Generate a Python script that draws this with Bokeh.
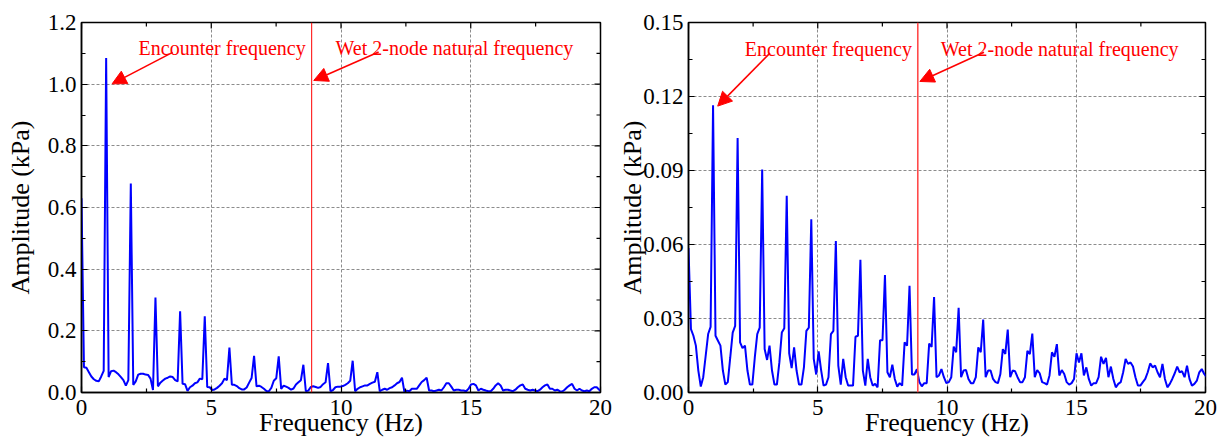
from bokeh.plotting import figure
from bokeh.layouts import row
from bokeh.models import (Range1d, Span, Arrow, NormalHead, Label,
                          PrintfTickFormatter, FixedTicker)
from bokeh.embed import file_html
from bokeh.resources import INLINE

# ---------------- data ----------------
df_hz = 0.095          # frequency resolution of the spectrum (Hz)
wet_2node_freq = 8.87  # Hz

amp_left = [
    0.630, 0.082, 0.080, 0.066, 0.052, 0.043, 0.038, 0.036, 0.052, 0.070,
    1.085, 0.050, 0.069, 0.071, 0.066, 0.059, 0.050, 0.040, 0.022, 0.040,
    0.678, 0.025, 0.036, 0.058, 0.061, 0.061, 0.058, 0.057, 0.045, 0.008,
    0.308, 0.020, 0.032, 0.039, 0.045, 0.048, 0.052, 0.050, 0.040, 0.036,
    0.263, 0.028, 0.027, 0.005, 0.017, 0.022, 0.030, 0.033, 0.045, 0.043,
    0.2475, 0.018, 0.017, 0.008, 0.010, 0.015, 0.022, 0.030, 0.045, 0.040,
    0.146, 0.025, 0.025, 0.021, 0.014, 0.010, 0.010, 0.016, 0.032, 0.047,
    0.119, 0.020, 0.022, 0.018, 0.012, 0.005, 0.004, 0.015, 0.038, 0.046,
    0.117, 0.012, 0.022, 0.019, 0.015, 0.009, 0.013, 0.026, 0.033, 0.040,
    0.090, 0.004, 0.006, 0.018, 0.020, 0.018, 0.015, 0.018, 0.027, 0.033,
    0.095, 0.004, 0.008, 0.017, 0.019, 0.019, 0.021, 0.025, 0.030, 0.038,
    0.103, 0.004, 0.012, 0.017, 0.020, 0.023, 0.023, 0.028, 0.032, 0.035,
    0.066, 0.004, 0.009, 0.012, 0.009, 0.014, 0.017, 0.023, 0.030, 0.034,
    0.048, 0.001, 0.006, 0.004, 0.012, 0.012, 0.012, 0.023, 0.034, 0.040,
    0.048, 0.0065, 0.0065, 0.0043, 0.0065, 0.009, 0.0065, 0.017, 0.030, 0.030,
    0.019, 0.0065, 0.009, 0.009, 0.0065, 0.0065, 0.0043, 0.012, 0.026, 0.028,
    0.023, 0.0065, 0.012, 0.009, 0.0065, 0.0043, 0.0043, 0.012, 0.023, 0.030,
    0.023, 0.0065, 0.009, 0.009, 0.0065, 0.0043, 0.009, 0.017, 0.023, 0.026,
    0.012, 0.009, 0.0065, 0.009, 0.0065, 0.0043, 0.009, 0.017, 0.023, 0.026,
    0.012, 0.012, 0.0065, 0.009, 0.0043, 0.0032, 0.009, 0.017, 0.023, 0.028,
    0.012, 0.0065, 0.012, 0.0065, 0.0043, 0.0065, 0.0043, 0.012, 0.017, 0.017,
    0.009, 0.002,
]

amp_right = [
    0.0586, 0.0257, 0.0230, 0.0190, 0.0089, 0.0024, 0.0062, 0.0149, 0.0237, 0.0266,
    0.1164, 0.0230, 0.0210, 0.0190, 0.0089, 0.0032, 0.0042, 0.0142, 0.0243, 0.0270,
    0.1032, 0.0203, 0.0180, 0.0190, 0.0089, 0.0032, 0.0032, 0.0142, 0.0237, 0.0263,
    0.0904, 0.0176, 0.0132, 0.0190, 0.0089, 0.0032, 0.0032, 0.0122, 0.0243, 0.0260,
    0.0798, 0.0159, 0.0099, 0.0183, 0.0089, 0.0032, 0.0032, 0.0102, 0.0250, 0.0263,
    0.0702, 0.0136, 0.0073, 0.0167, 0.0091, 0.0028, 0.0032, 0.0062, 0.0237, 0.0250,
    0.0614, 0.0109, 0.0032, 0.0136, 0.0062, 0.0028, 0.0028, 0.0028, 0.0226, 0.0230,
    0.0538, 0.0089, 0.0028, 0.0136, 0.0062, 0.0028, 0.0035, 0.0021, 0.0212, 0.0212,
    0.0476, 0.0082, 0.0062, 0.0113, 0.0055, 0.0024, 0.0038, 0.0028, 0.0203, 0.0190,
    0.0433, 0.0073, 0.0073, 0.0095, 0.0043, 0.0025, 0.0038, 0.0038, 0.0198, 0.0185,
    0.0387, 0.0062, 0.0069, 0.0095, 0.0062, 0.0038, 0.0042, 0.0062, 0.0186, 0.0163,
    0.0343, 0.0062, 0.0089, 0.0091, 0.0055, 0.0038, 0.0038, 0.0062, 0.0183, 0.0163,
    0.0296, 0.0062, 0.0089, 0.0089, 0.0055, 0.0042, 0.0038, 0.0075, 0.0176, 0.0156,
    0.0255, 0.0062, 0.0089, 0.0086, 0.0062, 0.0042, 0.0042, 0.0062, 0.0169, 0.0156,
    0.0239, 0.0062, 0.0091, 0.0078, 0.0042, 0.0038, 0.0032, 0.0069, 0.0163, 0.0145,
    0.0196, 0.0069, 0.0091, 0.0075, 0.0042, 0.0032, 0.0038, 0.0055, 0.0159, 0.0122,
    0.0159, 0.0069, 0.0102, 0.0055, 0.0028, 0.0038, 0.0038, 0.0062, 0.0145, 0.0116,
    0.0140, 0.0062, 0.0105, 0.0055, 0.0021, 0.0035, 0.0042, 0.0082, 0.0136, 0.0116,
    0.0122, 0.0105, 0.0062, 0.0028, 0.0028, 0.0042, 0.0055, 0.0082, 0.0118, 0.0102,
    0.0109, 0.0082, 0.0062, 0.0116, 0.0055, 0.0021, 0.0035, 0.0055, 0.0078, 0.0105,
    0.0082, 0.0086, 0.0062, 0.0109, 0.0055, 0.0028, 0.0035, 0.0048, 0.0082, 0.0095,
    0.0075, 0.0062,
]

freq_left = [i * df_hz for i in range(len(amp_left))]
freq_right = [i * df_hz for i in range(len(amp_right))]

x_ticks = [0, 5, 10, 15, 20]
x_minor = [2.5, 7.5, 12.5, 17.5]
y_ticks_left = [0.0, 0.2, 0.4, 0.6, 0.8, 1.0, 1.2]
y_minor_left = [0.1, 0.3, 0.5, 0.7, 0.9, 1.1]
y_ticks_right = [0.0, 0.03, 0.06, 0.09, 0.12, 0.15]
y_minor_right = [0.015, 0.045, 0.075, 0.105, 0.135]

label_enc = "Encounter frequency"
label_wet = "Wet 2-node natural frequency"
x_title = "Frequency (Hz)"
y_title = "Amplitude (kPa)"

FONT = "Liberation Serif"
FRAME_W, FRAME_H = 519, 370   # plot-frame size in px (used for tick lengths)
MAJ_LEN, MIN_LEN = 6, 4


def style_axis(ax, ticker, title, title_standoff, tick_standoff, fmt=None):
    ax.ticker = ticker
    ax.axis_line_width = 1.5
    ax.axis_line_color = "black"
    ax.major_tick_in = MAJ_LEN
    ax.major_tick_out = 0
    ax.minor_tick_in = MIN_LEN
    ax.minor_tick_out = 0
    ax.major_tick_line_width = 1.2
    ax.minor_tick_line_width = 1.2
    ax.major_label_text_font = FONT
    ax.major_label_text_font_size = "23px"
    ax.major_label_text_color = "black"
    ax.major_label_standoff = tick_standoff
    ax.axis_label = title
    ax.axis_label_text_font = FONT
    ax.axis_label_text_font_size = "26px"
    ax.axis_label_text_font_style = "normal"
    ax.axis_label_text_color = "black"
    ax.axis_label_standoff = title_standoff
    if fmt:
        ax.formatter = PrintfTickFormatter(format=fmt)


def panel(freq, amp, ymax, yt, ym, fmt, width, bl, br, bt, wet_color, wet_width,
          enc_text_xy, wet_text_xy, enc_arrow, wet_arrow, ytitle_standoff):
    p = figure(width=width, height=439, output_backend="svg", toolbar_location=None,
               x_range=Range1d(0, 20), y_range=Range1d(0, ymax),
               min_border_left=bl, min_border_right=br, min_border_top=bt,
               min_border_bottom=47)
    p.outline_line_color = "black"
    p.outline_line_width = 1.5
    p.background_fill_color = "white"
    p.border_fill_color = "white"

    style_axis(p.xaxis[0], FixedTicker(ticks=x_ticks, minor_ticks=x_minor),
               x_title, -10, 7)
    style_axis(p.yaxis[0], FixedTicker(ticks=yt, minor_ticks=ym),
               y_title, ytitle_standoff, 5, fmt)

    for g in (p.xgrid[0], p.ygrid[0]):
        g.grid_line_color = "#8c8c8c"
        g.grid_line_dash = "3 2"
        g.grid_line_width = 1
    p.xgrid[0].ticker = FixedTicker(ticks=x_ticks)
    p.ygrid[0].ticker = FixedTicker(ticks=yt)

    # inward ticks on the top and right frame edges
    dy_maj = MAJ_LEN * ymax / FRAME_H
    dy_min = MIN_LEN * ymax / FRAME_H
    dx_maj = MAJ_LEN * 20 / FRAME_W
    dx_min = MIN_LEN * 20 / FRAME_W
    p.segment(x0=x_ticks, y0=[ymax] * len(x_ticks), x1=x_ticks,
              y1=[ymax - dy_maj] * len(x_ticks), line_color="black", line_width=1.2)
    p.segment(x0=x_minor, y0=[ymax] * len(x_minor), x1=x_minor,
              y1=[ymax - dy_min] * len(x_minor), line_color="black", line_width=1.2)
    p.segment(x0=[20] * len(yt), y0=yt, x1=[20 - dx_maj] * len(yt), y1=yt,
              line_color="black", line_width=1.2)
    p.segment(x0=[20] * len(ym), y0=ym, x1=[20 - dx_min] * len(ym), y1=ym,
              line_color="black", line_width=1.2)

    p.line(freq, amp, line_color="#0000ff", line_width=2)

    p.add_layout(Span(location=wet_2node_freq, dimension="height",
                      line_color=wet_color, line_width=wet_width))

    for (tx, ty), txt in ((enc_text_xy, label_enc), (wet_text_xy, label_wet)):
        p.add_layout(Label(x=tx, y=ty, text=txt, text_font=FONT,
                           text_font_size="20px", text_color="#ff0000",
                           text_baseline="alphabetic", text_align="left"))
    for (x0, y0, x1, y1) in (enc_arrow, wet_arrow):
        p.add_layout(Arrow(end=NormalHead(size=14, fill_color="#ff0000",
                                          line_color="#ff0000", line_width=1),
                           x_start=x0, y_start=y0, x_end=x1, y_end=y1,
                           line_color="#ff0000", line_width=1.6))
    return p


p1 = panel(freq_left, amp_left, 1.2, y_ticks_left, y_minor_left, "%.1f",
           width=615, bl=81, br=15, bt=22, wet_color="#ff0000", wet_width=1,
           enc_text_xy=(2.20, 1.117), wet_text_xy=(9.79, 1.117),
           enc_arrow=(3.51, 1.103, 1.18, 1.001),
           wet_arrow=(11.45, 1.104, 8.95, 1.012), ytitle_standoff=10)

p2 = panel(freq_right, amp_right, 0.15, y_ticks_right, y_minor_right, "%.2f",
           width=612, bl=71, br=22, bt=20, wet_color="#ff4a4a", wet_width=1.6,
           enc_text_xy=(2.18, 0.1392), wet_text_xy=(9.76, 0.1392),
           enc_arrow=(3.15, 0.1376, 1.13, 0.1161),
           wet_arrow=(11.43, 0.1379, 8.95, 0.1261), ytitle_standoff=-7)

layout = row(p1, p2)
open("out.html", "w").write(file_html(layout, INLINE))
